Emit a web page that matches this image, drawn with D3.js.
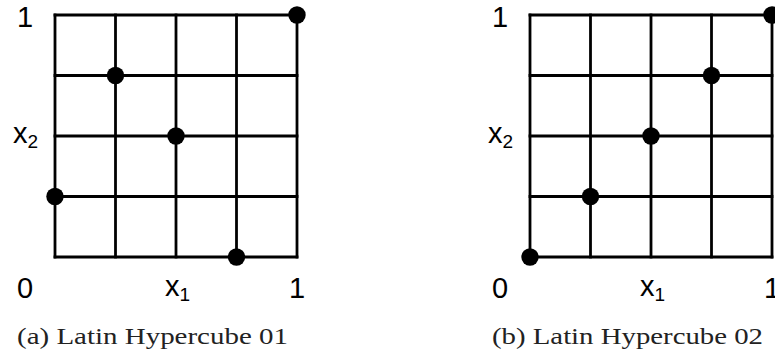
<!DOCTYPE html>
<html>
<head>
<meta charset="utf-8">
<script src="https://cdn.jsdelivr.net/npm/d3@7"></script>
<style>
  html, body { margin: 0; padding: 0; background: #fff; }
  svg { display: block; }
</style>
</head>
<body>
<script>
// Grid divisions of the unit square (one row/column per sample)
const gridTicks = [0, 0.25, 0.5, 0.75, 1];

// Design 01: one sample per row and column, scattered
const design01X = [0, 0.25, 0.5, 0.75, 1];
const design01Y = [0.25, 0.75, 0.5, 0, 1];

// Design 02: samples along the diagonal
const design02X = [0, 0.25, 0.5, 0.75, 1];
const design02Y = [0, 0.25, 0.5, 0.75, 1];

const captions = ["(a) Latin Hypercube 01", "(b) Latin Hypercube 02"];
const cornerLabels = ["0", "1"];

const W = 775, H = 356;
const svg = d3.select("body").append("svg").attr("width", W).attr("height", H);

const panels = [
  { xs: design01X, ys: design01Y, caption: captions[0], left: 55 },
  { xs: design02X, ys: design02Y, caption: captions[1], left: 530 }
];

const side = 242, gridTop = 15;
const sans = "'Liberation Sans', Arial, Helvetica, sans-serif";
const serif = "'Liberation Serif', 'Times New Roman', serif";

panels.forEach(p => {
  const x = d3.scaleLinear().domain([0, 1]).range([p.left, p.left + side]);
  const y = d3.scaleLinear().domain([0, 1]).range([gridTop + side, gridTop]);
  const g = svg.append("g");

  // grid lines
  g.selectAll("line.v").data(gridTicks).join("line")
    .attr("class", "v")
    .attr("x1", d => x(d)).attr("x2", d => x(d))
    .attr("y1", y(0)).attr("y2", y(1))
    .attr("stroke", "#000").attr("stroke-width", 2.8).attr("stroke-linecap", "square");
  g.selectAll("line.h").data(gridTicks).join("line")
    .attr("class", "h")
    .attr("y1", d => y(d)).attr("y2", d => y(d))
    .attr("x1", x(0)).attr("x2", x(1))
    .attr("stroke", "#000").attr("stroke-width", 2.8).attr("stroke-linecap", "square");

  // samples
  g.selectAll("circle").data(p.xs.map((v, i) => [v, p.ys[i]])).join("circle")
    .attr("cx", d => x(d[0])).attr("cy", d => y(d[1]))
    .attr("r", 8.7).attr("fill", "#000");

  const lab = (tx, ty, txt) => g.append("text")
    .attr("x", tx).attr("y", ty).attr("text-anchor", "middle")
    .attr("font-family", sans).attr("font-size", 29).attr("fill", "#000")
    .text(txt);

  // corner values
  lab(x(0) - 30, 27, cornerLabels[1]);
  lab(x(0) - 30, 298, cornerLabels[0]);
  lab(x(1), 298, cornerLabels[1]);

  // axis names with subscripts
  const axisName = (tx, ty, sub) => {
    const t = g.append("text").attr("x", tx).attr("y", ty)
      .attr("font-family", sans).attr("font-size", 29).attr("fill", "#000");
    t.append("tspan").text("x");
    t.append("tspan").attr("dy", 5).attr("font-size", 19).text(sub);
  };
  axisName(x(0) - 42, 143, "2");
  axisName(x(0.5) - 11, 296, "1");

  // caption
  g.append("text")
    .attr("x", x(0.5) - 23.5).attr("y", 344).attr("text-anchor", "middle")
    .attr("font-family", serif).attr("font-size", 23).attr("fill", "#222")
    .attr("textLength", 271).attr("lengthAdjust", "spacingAndGlyphs")
    .text(p.caption);
});
</script>
</body>
</html>
